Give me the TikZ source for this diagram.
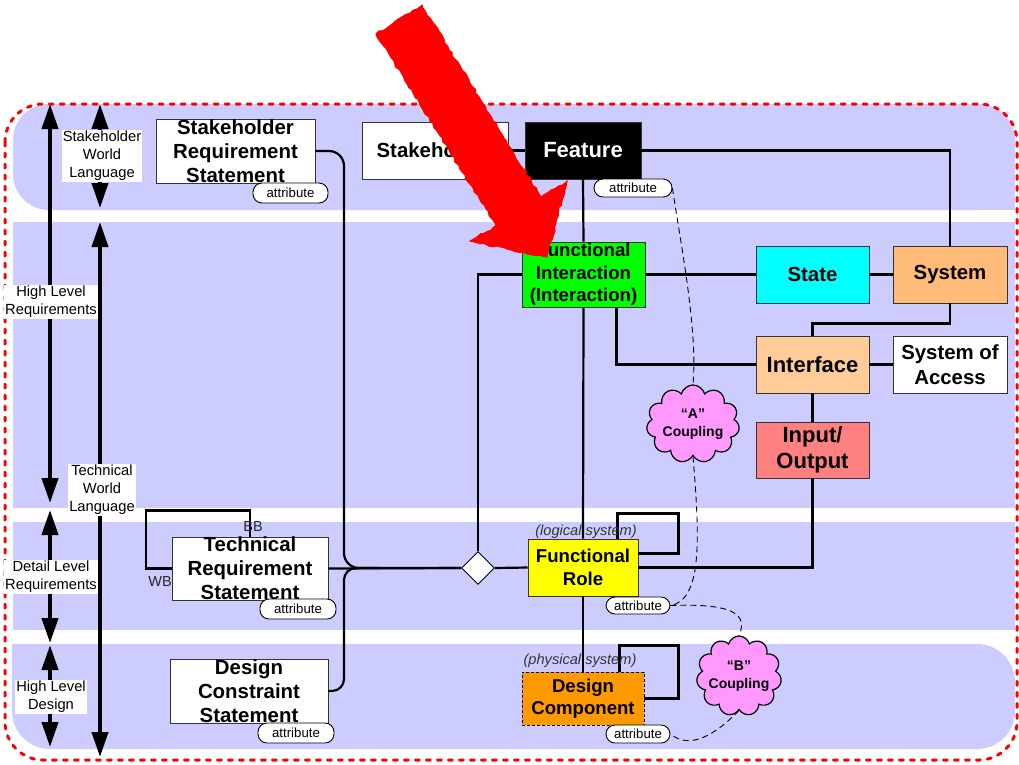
\documentclass[tikz,border=0pt]{standalone}
\usepackage{fontspec}
\setmainfont{Liberation Sans}
\usetikzlibrary{arrows.meta,shapes.geometric,shapes.symbols,calc,decorations.pathmorphing}
\definecolor{bandc}{HTML}{CCCCFF}
\definecolor{fgreen}{HTML}{00FF00}
\definecolor{fcyan}{HTML}{00FFFF}
\definecolor{fsys}{HTML}{FFBB77}
\definecolor{fintf}{HTML}{FFCC99}
\definecolor{fio}{HTML}{FF8080}
\definecolor{fyel}{HTML}{FFFF00}
\definecolor{fdc}{HTML}{FF9900}
\definecolor{cpink}{HTML}{FF99FF}
\begin{document}
\begin{tikzpicture}[x=1pt,y=-1pt,
 bx/.style={draw=black!80, line width=0.9pt, inner sep=0pt},
 conn/.style={line width=2.2pt, black},
 dl/.style={line width=0.9pt, black, dash pattern=on 6pt off 4pt},
 pill/.style={draw=black, line width=0.9pt, fill=white, rounded corners=9pt, inner sep=0pt, minimum height=19pt, minimum width=76pt, font=\fontsize{13.2}{14}\selectfont},
 lbl/.style={fill=white, inner sep=1pt, align=center, font=\fontsize{14.7}{18}\selectfont},
 dbl/.style={line width=4pt, {Triangle[length=25pt,width=16pt]}-{Triangle[length=25pt,width=16pt]}},
 t3/.style={align=center, font=\fontsize{20.4}{24}\selectfont\bfseries},
 tm/.style={align=center, font=\fontsize{18.6}{22.5}\selectfont\bfseries},
 tb/.style={align=center, font=\fontsize{20.4}{25}\selectfont\bfseries},
 tl/.style={align=center, font=\fontsize{22}{26}\selectfont\bfseries},
 cl/.style={cloud, cloud puffs=11, draw=black, line width=1.2pt, fill=cpink, inner sep=0pt},
 ctxt/.style={align=center, font=\fontsize{14}{18.5}\selectfont\bfseries},
 itl/.style={font=\fontsize{14.6}{16}\selectfont\itshape, text=black!80},
 sm/.style={font=\fontsize{14.5}{16}\selectfont, text=black!85}
]
\useasboundingbox (0,0) rectangle (1019,764);

% bands
\fill[bandc, rounded corners=36pt] (13,104) rectangle (1015,210);
\fill[bandc] (600,150) rectangle (1015,210);
\fill[bandc] (13,222) rectangle (1015,508);
\fill[bandc] (13,522) rectangle (1015,630);
\fill[bandc, rounded corners=38pt] (12,644) rectangle (1015,749);
\fill[bandc] (12,644) rectangle (200,700);

% red dashed border
\draw[red, line width=3pt, line cap=round, dash pattern=on 4pt off 7pt, rounded corners=38pt] (5,104) rectangle (1017,760);

% left arrows
\coordinate (a1t) at (50,104); \coordinate (a1b) at (50,503);
\coordinate (a2t) at (100,104); \coordinate (a2b) at (100,208);
\coordinate (a3t) at (100,222); \coordinate (a3b) at (100,757);
\coordinate (a4t) at (50,510); \coordinate (a4b) at (50,643);
\coordinate (a5t) at (50,645); \coordinate (a5b) at (50,747);
\draw[dbl] (a1t) -- (a1b);
\draw[dbl] (a2t) -- (a2b);
\draw[dbl] (a3t) -- (a3b);
\draw[dbl] (a4t) -- (a4b);
\draw[dbl] (a5t) -- (a5b);
\node[lbl] (l1) at (102,156) {Stakeholder\\World\\Language};
\node[lbl] (l2) at (51,302) {High Level\\Requirements};
\node[lbl] (l3) at (102,490) {Technical\\World\\Language};
\node[lbl] (l4) at (51,577) {Detail Level\\Requirements};
\node[lbl] (l5) at (51,697) {High Level\\Design};

% boxes
\node[bx, fill=white, minimum width=159pt, minimum height=64pt] (srs) at (235.5,151) {};
\node[t3] (srst) at (srs) {Stakeholder\\Requirement\\Statement};
\node[bx, fill=white, minimum width=146pt, minimum height=57pt, tb] (sh) at (435,150.5) {Stakeholder};
\node[bx, fill=black, text=white, minimum width=116pt, minimum height=57pt, tl] (feat) at (583,150.5) {Feature};
\node[bx, fill=fgreen, minimum width=123pt, minimum height=65pt] (fi) at (583.5,274.5) {};
\node[tm] (fit) at (fi) {Functional\\Interaction\\(Interaction)};
\node[bx, fill=fcyan, minimum width=113pt, minimum height=57pt, tb] (st) at (812.5,274.5) {State};
\node[bx, fill=fsys, minimum width=114pt, minimum height=57pt, tb] (sys) at (950,274.5) {System};
\node[bx, fill=fintf, minimum width=113pt, minimum height=57pt, tl] (intf) at (812.5,364.5) {Interface};
\node[bx, fill=white, minimum width=114pt, minimum height=57pt, tb] (soa) at (950,364.5) {System of\\Access};
\node[bx, fill=fio, minimum width=113pt, minimum height=56pt, tl] (io) at (812.5,450) {Input/\\Output};
\node[bx, fill=fyel, minimum width=110pt, minimum height=57pt, tm] (fr) at (583,567.5) {Functional\\Role};
\node[bx, draw=black, dash pattern=on 3pt off 2pt, fill=fdc, minimum width=122pt, minimum height=53pt, tm] (dc) at (583,698.5) {Design\\Component};
\node[bx, fill=white, minimum width=156pt, minimum height=63pt] (trs) at (250,568.5) {};
\node[t3] (trst) at (trs) {Technical\\Requirement\\Statement};
\node[bx, fill=white, minimum width=158pt, minimum height=64pt] (dcs) at (249,691) {};
\node[t3] (dcst) at (dcs) {Design\\Constraint\\Statement};
\node[diamond, draw=black, line width=0.9pt, fill=white, minimum width=33pt, minimum height=33pt, inner sep=0pt] (dia) at (478,568) {};

% connectors
\draw[conn, rounded corners=15pt] (srs.east) -| (344,568) -- (dia.west);
\draw[conn] (trs.east) -- (dia.west);
\draw[conn, rounded corners=12pt] (dcs.east) -- (344,691) -- (344,568) -- (380,568);
\draw[conn] (dia.north) |- (fi.west);
\draw[conn] (dia.east) -- (fr.west);
\draw[conn] (sh.east) -- (feat.west);
\draw[conn] (feat.south) -- (fi.north);
\draw[conn] (feat.east) -| (sys.north);
\draw[conn] (fi.east) -- (st.west);
\draw[conn] (st.east) -- (sys.west);
\draw[conn] (sys.south) -- ++(0,20) -| (intf.north);
\draw[conn] (fi.south) ++(33,0) |- (intf.west);
\draw[conn] (intf.east) -- (soa.west);
\draw[conn] (intf.south) -- (io.north);
\draw[conn] (io.south) |- (fr.east);
\draw[conn] (fi.south) -- (fr.north);
\draw[conn] (fr.south) -- (dc.north);
% self loops
\draw[conn] (trs.north) -- ++(0,-26) -| (146,568.5) -- (trs.west);
\draw[conn] ([xshift=-21pt]fr.north east) -- ++(0,-25) -| ($([yshift=14pt]fr.east)+(40,0)$) -- ([yshift=14pt]fr.east);
\draw[conn] ([xshift=-25pt]dc.north east) -- ++(0,-26) -| ($(dc.east)+(34,0)$) -- (dc.east);
\node[sm] (bb) at (253,526) {BB};
\node[sm] (wb) at (160,581) {WB};
\node[itl] (ls) at (586,532) {(logical system)};
\node[itl] (ps) at (580,661) {(physical system)};

% attribute pills
\node[pill, minimum width=75pt, minimum height=20pt] (sra) at (290.5,193) {attribute};
\node[pill, minimum width=78pt, minimum height=18pt] (fa) at (633,188) {attribute};
\node[pill, minimum width=76pt, minimum height=20pt] (tra) at (298,609) {attribute};
\node[pill, minimum width=76pt, minimum height=20pt] (dca2) at (296,733) {attribute};
\node[pill, minimum width=64pt, minimum height=17pt] (fra) at (638,605.5) {attribute};
\node[pill, minimum width=64pt, minimum height=18pt] (dca) at (638,734) {attribute};

% clouds
\node[cl, minimum width=93pt, minimum height=78pt] (ca) at (693,424) {};
\node[ctxt] (cat) at (ca) {“A”\\Coupling};
\node[cl, minimum width=85pt, minimum height=80pt] (cb) at (739,676) {};
\node[ctxt] (cbt) at (cb) {“B”\\Coupling};

% dashed couplings
\draw[dl] (fa.east) .. controls (680,240) and (698,330) .. (ca.north);
\draw[dl] (ca.south) .. controls (700,540) and (702,600) .. (fra.east);
\draw[dl] (fra.east) .. controls (735,603) and (748,615) .. (cb.north);
\draw[dl] (cb.south) .. controls (715,735) and (690,750) .. (dca.east);

% big red arrow
\filldraw[red, line width=1pt, decorate, decoration={random steps, segment length=4pt, amplitude=1.2pt}]
 (422,5) -- (541,197) -- (567,181) -- (547,257) -- (470,241) -- (496,226) -- (376,34) -- cycle;
\end{tikzpicture}
\end{document}
